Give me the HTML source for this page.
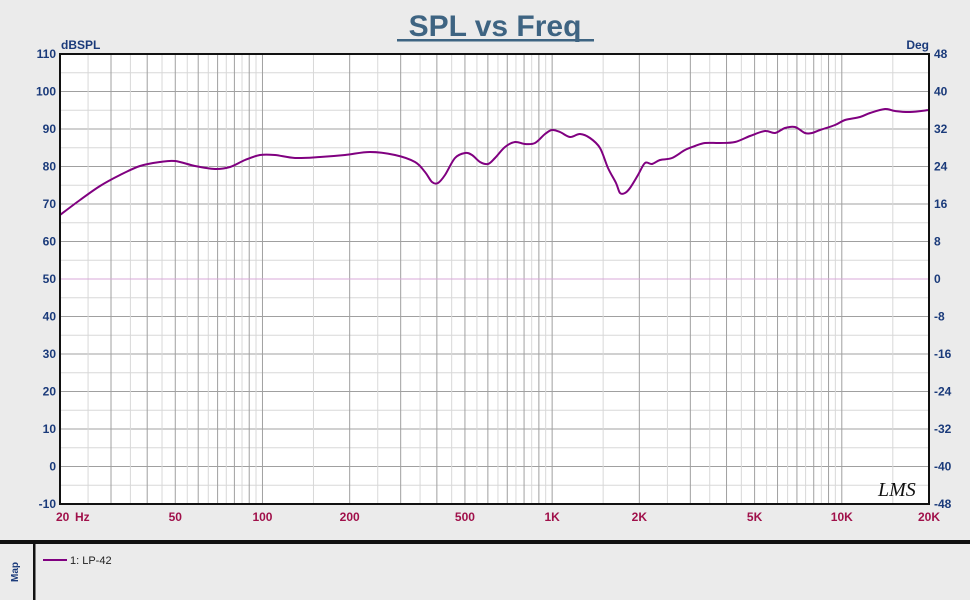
<!DOCTYPE html>
<html><head><meta charset="utf-8"><style>
body{margin:0;width:970px;height:600px;background:#ebebeb;overflow:hidden;font-family:"Liberation Sans",Arial,sans-serif}
svg{position:absolute;left:0;top:0}
</style></head><body>
<svg id="s" width="970" height="600" xmlns="http://www.w3.org/2000/svg"></svg>
<script>
const L=60,R=929,T=54,B=504;
const fx=f=>L+(R-L)*Math.log10(f/20)/3;
const yd=d=>T+(110-d)*(B-T)/120;
let h='';
h+=`<rect x="${L}" y="${T}" width="${R-L}" height="${B-T}" fill="#fff"/>`;
for(let d=-10;d<=110;d+=5){const y=yd(d);h+=`<line x1="${L}" x2="${R}" y1="${y}" y2="${y}" stroke="${d%10==0?'#a0a0a0':'#d8d8d8'}" stroke-width="1"/>`;}
for(const dec of [10,100,1000,10000]){for(let m=1;m<10;m+=0.5){const f=dec*m;if(f<20||f>20000)continue;const x=fx(f);const maj=(m%1==0);h+=`<line x1="${x}" x2="${x}" y1="${T}" y2="${B}" stroke="${maj?'#a0a0a0':'#d8d8d8'}" stroke-width="1"/>`;}}
h+=`<line x1="${L}" x2="${R}" y1="${yd(50)}" y2="${yd(50)}" stroke="#d8a8d8" stroke-width="1"/>`;
const pts=[[60,215],[80,200],[100,186],[120,175],[140,166],[160,162],[175,161],[195,166],[215,169],[230,167],[245,160],[260,155],[275,155],[295,158],[320,157],[345,155],[370,152],[395,155],[415,162],[425,172],[432,182],[438,183],[445,175],[455,158],[465,153],[472,155],[480,162],[488,164],[495,158],[505,147],[515,142],[525,144],[535,143],[545,134],[552,130],[560,132],[570,137],[580,134],[590,138],[600,148],[608,168],[616,183],[620,193],[625,193],[630,188],[638,175],[645,163],[652,164],[660,160],[672,158],[685,150],[695,146],[705,143],[720,143],[735,142],[750,136],[765,131],[775,133],[785,128],[795,127],[805,133],[812,133],[820,130],[835,125],[845,120],[860,117],[870,113],[885,109],[895,111],[910,112],[929,110]];
let d='M'+pts[0].join(',');
for(let i=0;i<pts.length-1;i++){const p0=pts[Math.max(0,i-1)],p1=pts[i],p2=pts[i+1],p3=pts[Math.min(pts.length-1,i+2)];
const c1=[p1[0]+(p2[0]-p0[0])/6,p1[1]+(p2[1]-p0[1])/6],c2=[p2[0]-(p3[0]-p1[0])/6,p2[1]-(p3[1]-p1[1])/6];
d+=` C${c1.join(',')} ${c2.join(',')} ${p2.join(',')}`;}
h+=`<path fill="none" stroke="#800080" stroke-width="2" d="${d}"/>`;
h+=`<rect x="${L}" y="${T}" width="${R-L}" height="${B-T}" fill="none" stroke="#111" stroke-width="2"/>`;
for(let v=-10;v<=110;v+=10){const y=yd(v)+4;h+=`<text x="${L-4}" y="${y}" text-anchor="end" font-size="12" font-weight="bold" fill="#1a3a7a">${v}</text>`;
 const deg=(v-50)*0.8;h+=`<text x="${R+5}" y="${y}" font-size="12" font-weight="bold" fill="#1a3a7a">${Math.round(deg)}</text>`;}
h+=`<text x="61" y="49" font-size="12" font-weight="bold" fill="#1a3a7a">dBSPL</text>`;
h+=`<text x="929" y="49" text-anchor="end" font-size="12" font-weight="bold" fill="#1a3a7a">Deg</text>`;
const xl=[[20,'20'],[50,'50'],[100,'100'],[200,'200'],[500,'500'],[1000,'1K'],[2000,'2K'],[5000,'5K'],[10000,'10K'],[20000,'20K']];
for(const [f,t] of xl){let x=fx(f);let a='middle';if(f==20){x=56;a='start'}if(f==20000){x=940;a='end'}h+=`<text x="${x}" y="521" text-anchor="${a}" font-size="12" font-weight="bold" fill="#a0104a">${t}</text>`;}
h+=`<text x="75" y="521" font-size="12" font-weight="bold" fill="#a0104a">Hz</text>`;
h+=`<text x="495" y="36" text-anchor="middle" font-size="30" font-weight="bold" fill="#3e6482">SPL vs Freq</text>`;
h+=`<rect x="397" y="39" width="197" height="2.5" fill="#3e6482"/>`;
h+=`<text x="878" y="496" font-size="20" font-style="italic" font-family="Liberation Serif" fill="#111">LMS</text>`;
h+=`<rect x="0" y="540" width="970" height="4" fill="#111"/>`;
h+=`<rect x="33" y="544" width="2.5" height="56" fill="#111"/>`;
h+=`<text transform="translate(18,572) rotate(-90)" text-anchor="middle" font-size="10" font-weight="bold" fill="#1a3a7a">Map</text>`;
h+=`<line x1="43" x2="67" y1="560" y2="560" stroke="#800080" stroke-width="2"/>`;
h+=`<text x="70" y="564" font-size="11" fill="#222">1: LP-42</text>`;
document.getElementById('s').innerHTML=h;
</script>
</body></html>
